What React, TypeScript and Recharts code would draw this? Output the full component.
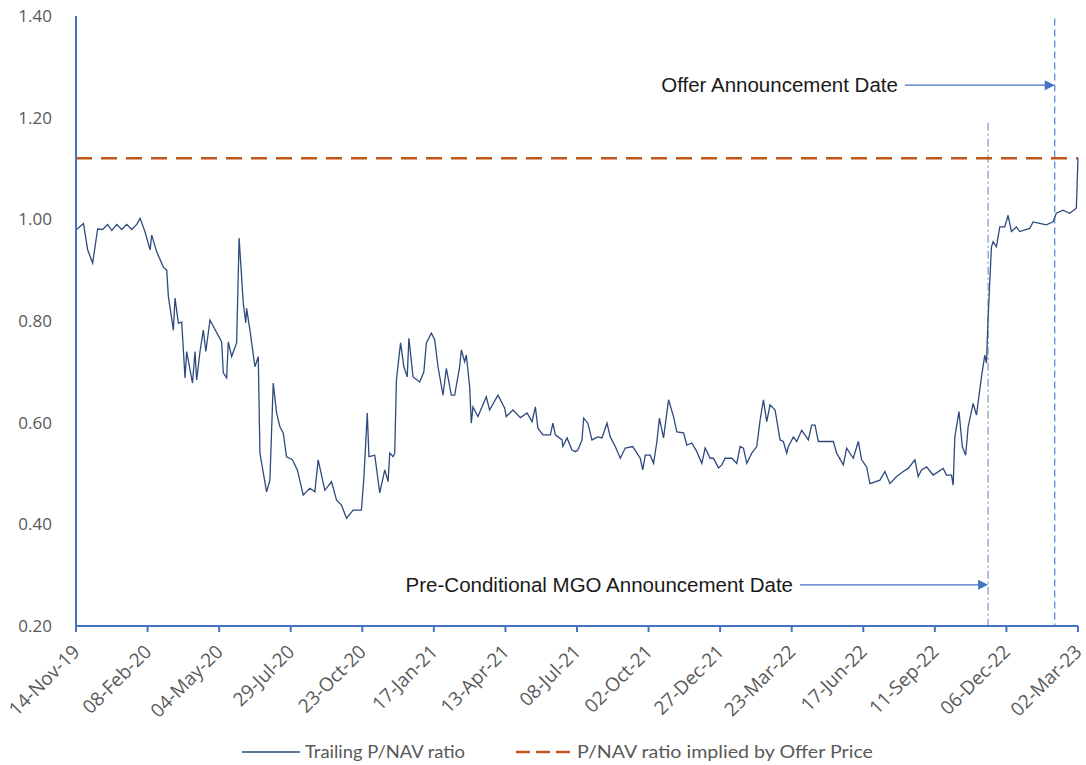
import React from 'react';
import { LineChart, Line, XAxis, YAxis, ReferenceLine, Legend } from 'recharts';

// Days since 14-Nov-19
const dayOffsets = [
  0, 9, 14, 20, 26, 32, 38, 43, 49, 55, 61, 67, 73, 77, 83, 89, 91, 97, 105, 109,
  111, 117, 119, 123, 127, 131, 133, 140, 143, 145, 149, 153, 156, 161, 175, 177, 181, 183, 187, 193,
  196, 201, 204, 205, 209, 215, 219, 221, 229, 233, 237, 241, 245, 249, 253, 260, 266, 273, 281, 287,
  291, 299, 307, 313, 319, 325, 333, 343, 346, 350, 352, 359, 365, 371, 375, 377, 381, 383, 385, 390,
  394, 398, 400, 405, 413, 418, 421, 427, 431, 435, 441, 445, 451, 455, 461, 463, 467, 469, 473, 475,
  477, 483, 493, 497, 507, 515, 517, 525, 534, 542, 548, 552, 555, 561, 570, 573, 576, 584, 585, 590,
  596, 600, 603, 608, 610, 615, 620, 627, 632, 638, 642, 648, 654, 660, 669, 678, 681, 684, 690, 694,
  698, 701, 706, 712, 718, 722, 730, 734, 740, 746, 752, 756, 762, 766, 772, 776, 780, 788, 794, 798,
  802, 806, 812, 818, 822, 826, 830, 834, 840, 846, 850, 854, 856, 862, 866, 872, 880, 884, 888, 892,
  910, 914, 922, 926, 934, 940, 944, 950, 954, 966, 972, 978, 986, 994, 1000, 1008, 1012, 1016, 1022, 1030,
  1042, 1046, 1052, 1054, 1056, 1061, 1065, 1069, 1072, 1078, 1082, 1088, 1092, 1094, 1096, 1100, 1102, 1106, 1110, 1116,
  1120, 1124, 1130, 1134, 1146, 1150, 1158, 1166, 1174, 1178, 1186, 1194, 1202, 1204,
];

const trailingPNav = [
  0.979, 0.992, 0.94, 0.914, 0.981, 0.98, 0.99, 0.978, 0.99, 0.98, 0.99, 0.98, 0.99, 1.002, 0.975, 0.94, 0.969, 0.936, 0.906, 0.9,
  0.848, 0.782, 0.845, 0.796, 0.798, 0.688, 0.74, 0.678, 0.74, 0.684, 0.74, 0.782, 0.74, 0.802, 0.759, 0.698, 0.688, 0.759, 0.73, 0.757,
  0.963, 0.835, 0.796, 0.825, 0.782, 0.71, 0.73, 0.54, 0.464, 0.487, 0.678, 0.619, 0.592, 0.58, 0.533, 0.527, 0.507, 0.458, 0.471, 0.464,
  0.527, 0.467, 0.484, 0.448, 0.438, 0.412, 0.428, 0.428, 0.494, 0.619, 0.533, 0.536, 0.462, 0.507, 0.484, 0.54, 0.533, 0.54, 0.684, 0.757,
  0.71, 0.69, 0.766, 0.69, 0.68, 0.7, 0.757, 0.776, 0.763, 0.71, 0.654, 0.707, 0.654, 0.654, 0.71, 0.743, 0.72, 0.733, 0.671, 0.599,
  0.631, 0.612, 0.651, 0.625, 0.654, 0.629, 0.612, 0.625, 0.61, 0.619, 0.602, 0.631, 0.589, 0.576, 0.576, 0.599, 0.576, 0.566, 0.553, 0.57,
  0.546, 0.543, 0.546, 0.566, 0.609, 0.599, 0.566, 0.572, 0.57, 0.599, 0.572, 0.553, 0.53, 0.55, 0.553, 0.53, 0.507, 0.536, 0.536, 0.52,
  0.563, 0.609, 0.57, 0.645, 0.612, 0.582, 0.58, 0.556, 0.56, 0.543, 0.52, 0.55, 0.53, 0.53, 0.511, 0.517, 0.53, 0.53, 0.52, 0.553,
  0.55, 0.52, 0.54, 0.553, 0.605, 0.645, 0.602, 0.635, 0.625, 0.566, 0.563, 0.54, 0.553, 0.572, 0.563, 0.585, 0.566, 0.595, 0.595, 0.563,
  0.563, 0.54, 0.517, 0.55, 0.53, 0.563, 0.527, 0.513, 0.48, 0.487, 0.504, 0.48, 0.494, 0.504, 0.51, 0.527, 0.494, 0.507, 0.513, 0.497,
  0.51, 0.497, 0.497, 0.477, 0.572, 0.622, 0.553, 0.536, 0.592, 0.638, 0.615, 0.69, 0.733, 0.717, 0.808, 0.946, 0.956, 0.946, 0.985, 0.985,
  1.008, 0.976, 0.985, 0.976, 0.982, 0.995, 0.992, 0.989, 0.995, 1.012, 1.018, 1.012, 1.022, 1.12,
];

const offerImpliedPNav = 1.12;

const tickLabels = [
  '14-Nov-19', '08-Feb-20', '04-May-20', '29-Jul-20', '23-Oct-20', '17-Jan-21', '13-Apr-21', '08-Jul-21',
  '02-Oct-21', '27-Dec-21', '23-Mar-22', '17-Jun-22', '11-Sep-22', '06-Dec-22', '02-Mar-23',
];
const tickStep = 86;
const xTicks = tickLabels.map((_, i) => i * tickStep);
const yTicks = [0.2, 0.4, 0.6, 0.8, 1.0, 1.2, 1.4];

const preConditionalDay = 1096; // 14-Nov-22
const offerDay = 1176; // 02-Feb-23

const data = dayOffsets.map((d, i) => ({
  day: d,
  trailing: trailingPNav[i],
  offer: offerImpliedPNav,
}));

const AXIS_BLUE = '#4472C4';
const TICK_GREY = '#595959';
const TICK_FONT = '"Open Sans", "Noto Sans", sans-serif';
const LEGEND_FONT = 'Lato, "Open Sans", sans-serif';

const XTick = (props: any) => {
  const { x, y, payload } = props;
  const label = tickLabels[Math.round(payload.value / tickStep)];
  return (
    <g transform={`translate(${x + 5},${y + 19})`}>
      <text x={0} y={0} textAnchor="end" fill={TICK_GREY} fontSize={19} fontFamily={TICK_FONT} transform="rotate(-45)">
        {label}
      </text>
    </g>
  );
};

const makeArrow = (text: string) => (props: any) => {
  const { x1, y1, x2, y2 } = props;
  return (
    <g>
      <text x={x1 - 7} y={y1 + 7} textAnchor="end" fill="#1a1a1a" fontSize={20.5} fontFamily='"Liberation Sans", Arial, sans-serif'>
        {text}
      </text>
      <line x1={x1} y1={y1} x2={x2 - 8} y2={y2} stroke={AXIS_BLUE} strokeWidth={1.3} />
      <polygon points={`${x2},${y2} ${x2 - 10},${y2 - 5} ${x2 - 10},${y2 + 5}`} fill={AXIS_BLUE} />
    </g>
  );
};

const renderLegend = () => (
  <div style={{ height: 30, width: 1086, position: 'relative' }}>
    <svg width={1086} height={30} style={{ position: 'absolute', left: 0, top: 0 }}>
      <line x1={242} y1={17} x2={300} y2={17} stroke="#2E4A7D" strokeWidth={1.5} />
      <text x={305} y={23} fill={TICK_GREY} fontSize={18} fontFamily={LEGEND_FONT} textLength={160} lengthAdjust="spacingAndGlyphs">
        Trailing P/NAV ratio
      </text>
      <line x1={516} y1={17} x2={571} y2={17} stroke="#C0561A" strokeWidth={2.5} strokeDasharray="14 6" />
      <text x={577} y={23} fill={TICK_GREY} fontSize={18} fontFamily={LEGEND_FONT} textLength={296} lengthAdjust="spacingAndGlyphs">
        P/NAV ratio implied by Offer Price
      </text>
    </svg>
  </div>
);

export default function App() {
  return (
    <div style={{ position: 'absolute', left: 0, top: 0, width: 1086, height: 765, background: '#fff' }}>
      <LineChart width={1086} height={765} data={data} margin={{ top: 16, right: 8, left: 0, bottom: 0 }}>
        <XAxis
          dataKey="day"
          type="number"
          domain={[0, 1204]}
          ticks={xTicks}
          interval={0}
          height={109}
          tick={<XTick />}
          axisLine={{ stroke: AXIS_BLUE, strokeWidth: 2 }}
          tickLine={{ stroke: AXIS_BLUE, strokeWidth: 2 }}
          tickSize={6}
        />
        <YAxis
          type="number"
          domain={[0.2, 1.4]}
          ticks={yTicks}
          interval={0}
          width={76}
          tickFormatter={(v: number) => v.toFixed(2)}
          axisLine={{ stroke: AXIS_BLUE, strokeWidth: 2 }}
          tickLine={false}
          tickSize={0}
          tickMargin={24}
          tick={{ fill: TICK_GREY, fontSize: 17, fontFamily: TICK_FONT }}
        />
        <Legend verticalAlign="bottom" content={renderLegend} wrapperStyle={{ left: 0, bottom: 0, width: 1086, height: 30 }} />
        <ReferenceLine
          segment={[{ x: preConditionalDay, y: 1.19 }, { x: preConditionalDay, y: 0.2 }]}
          stroke="#7D96C4"
          strokeWidth={1.2}
          strokeDasharray="8 3 2 3"
        />
        <ReferenceLine
          segment={[{ x: offerDay, y: 1.395 }, { x: offerDay, y: 0.2 }]}
          stroke="#5B8BD6"
          strokeWidth={1.3}
          strokeDasharray="7 4"
        />
        <ReferenceLine
          segment={[{ x: 996, y: 1.264 }, { x: offerDay, y: 1.264 }]}
          shape={makeArrow('Offer Announcement Date')}
        />
        <ReferenceLine
          segment={[{ x: 870, y: 0.281 }, { x: preConditionalDay, y: 0.281 }]}
          shape={makeArrow('Pre-Conditional MGO Announcement Date')}
        />
        <Line
          type="linear"
          dataKey="offer"
          name="P/NAV ratio implied by Offer Price"
          stroke="#C0561A"
          strokeWidth={2.5}
          strokeDasharray="16 9"
          dot={false}
          isAnimationActive={false}
        />
        <Line
          type="linear"
          dataKey="trailing"
          name="Trailing P/NAV ratio"
          stroke="#2E4A7D"
          strokeWidth={1.3}
          dot={false}
          isAnimationActive={false}
        />
      </LineChart>
    </div>
  );
}
